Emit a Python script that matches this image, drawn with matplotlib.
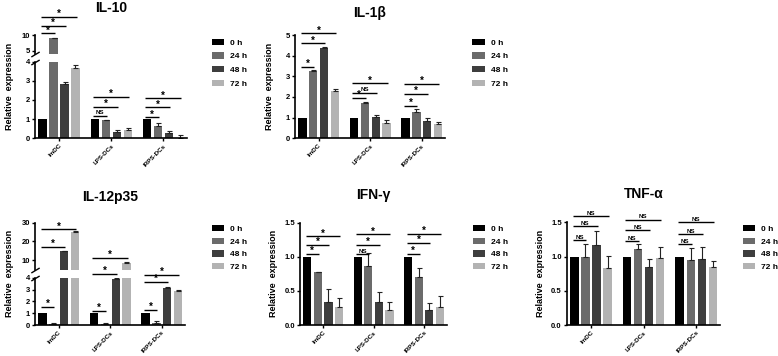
import numpy as np
import matplotlib
matplotlib.use("Agg")
import matplotlib.pyplot as plt

plt.rcParams['font.family'] = ['Liberation Sans', 'DejaVu Sans']
plt.rcParams['font.weight'] = 'bold'

groups = ["ImDC", "LPS-DCs", "IRPS-DCs"]
times = ["0 h", "24 h", "48 h", "72 h"]
colors = ["#000000", "#6b6b6b", "#3e3e3e", "#b3b3b3"]

# rows = ImDC, LPS-DCs, IRPS-DCs ; columns = 0 h, 24 h, 48 h, 72 h
il10_mean = [[1.0, 8.9, 2.85, 3.65], [1.0, 0.93, 0.35, 0.42], [1.0, 0.65, 0.27, 0.03]]
il10_err = [[0, 0.1, 0.1, 0.17], [0, 0.05, 0.1, 0.1], [0, 0.15, 0.12, 0.12]]
il10_sig = [["*", "*", "*"], ["NS", "*", "*"], ["*", "*", "*"]]
il10_sig_y = [[10.5, 12.9, 15.8], [1.18, 1.65, 2.17], [1.09, 1.61, 2.08]]

il1b_mean = [[1.0, 3.26, 4.35, 2.3], [1.0, 1.73, 1.05, 0.76], [1.0, 1.27, 0.82, 0.68]]
il1b_err = [[0, 0.05, 0.05, 0.1], [0, 0.03, 0.1, 0.12], [0, 0.15, 0.15, 0.1]]
il1b_sig = [["*", "*", "*"], ["*", "NS", "*"], ["*", "*", "*"]]
il1b_sig_y = [[3.47, 4.6, 5.08], [1.94, 2.21, 2.66], [1.56, 2.15, 2.63]]

il12_mean = [[1.0, 0.1, 15.1, 25.2], [1.0, 0.05, 3.9, 8.7], [1.0, 0.2, 3.16, 2.88]]
il12_err = [[0, 0.05, 0.1, 0.2], [0, 0.15, 0.07, 0.2], [0, 0.1, 0.08, 0.07]]
il12_sig = [["*", "*", "*"], ["*", "*", "*"], ["*", "*", "*"]]
il12_sig_y = [[1.55, 17.2, 26.5], [1.2, 4.3, 11.1], [1.27, 3.66, 4.25]]

ifng_mean = [[1.0, 0.77, 0.34, 0.27], [1.0, 0.86, 0.34, 0.22], [1.0, 0.70, 0.22, 0.26]]
ifng_err = [[0, 0.01, 0.19, 0.12], [0, 0.19, 0.14, 0.12], [0, 0.14, 0.1, 0.16]]
ifng_sig = [["*", "*", "*"], ["NS", "*", "*"], ["*", "*", "*"]]
ifng_sig_y = [[1.04, 1.18, 1.30], [1.04, 1.17, 1.33], [1.04, 1.2, 1.34]]

tnfa_mean = [[1.0, 0.99, 1.17, 0.83], [1.0, 1.11, 0.85, 0.98], [1.0, 0.95, 0.96, 0.84]]
tnfa_err = [[0, 0.2, 0.21, 0.18], [0, 0.07, 0.11, 0.16], [0, 0.18, 0.18, 0.1]]
tnfa_sig = [["NS", "NS", "NS"], ["NS", "NS", "NS"], ["NS", "NS", "NS"]]
tnfa_sig_y = [[1.24, 1.44, 1.59], [1.22, 1.39, 1.54], [1.18, 1.33, 1.5]]

W, H = 778, 356
step, width = 0.21, 0.16

fig = plt.figure(figsize=(W / 100, H / 100), dpi=100)


def add_ax(x0, x1, ytop, ybot):
    ax = fig.add_axes([x0 / W, 1 - ybot / H, (x1 - x0) / W, (ybot - ytop) / H])
    ax.patch.set_visible(False)
    return ax


def style(ax, bottom=True):
    for s in ["top", "right"]:
        ax.spines[s].set_visible(False)
    ax.spines["left"].set_linewidth(1.2)
    ax.spines["bottom"].set_linewidth(1.2)
    ax.tick_params(axis="y", labelsize=5.5, length=2.5, width=1, pad=1)
    ax.set_xlim(-0.46, 2.45)
    if bottom:
        ax.set_xticks(range(3))
        ax.set_xticklabels(groups, rotation=45, ha="right", rotation_mode="anchor", fontsize=4.5)
        ax.tick_params(axis="x", length=2.5, width=1, pad=1)
    else:
        ax.spines["bottom"].set_visible(False)
        ax.set_xticks([])


def draw_bars(ax, mean, err, floor=0):
    mean = np.array(mean)
    err = np.array(err)
    bars = []
    for k in range(4):
        x = np.arange(3) + (k - 1.5) * step
        b = ax.bar(x, mean[:, k], width, color=colors[k], label=times[k])
        bars.append(b)
        if k > 0:
            keep = mean[:, k] > floor
            ax.errorbar(x[keep], mean[keep, k], yerr=[np.zeros(keep.sum()), err[keep, k]],
                        fmt="none", ecolor="#222222", elinewidth=0.8, capsize=1.8, capthick=0.8)
    return bars


def brackets(ax, sig, sig_y, upper=None, split=None):
    for g in range(3):
        for j in range(3):
            y = sig_y[g][j]
            a = upper if (upper is not None and y > split) else ax
            x0 = g - 1.5 * step - 0.03
            x1 = g + (j - 0.5) * step + 0.02
            a.plot([x0, x1], [y, y], color="k", lw=1, clip_on=False, solid_capstyle="butt")
            lab = sig[g][j]
            a.annotate(lab, ((x0 + x1) / 2, y), xytext=(0, -1.5 if lab == "*" else 0.2),
                       textcoords="offset points", ha="center", va="bottom",
                       fontsize=7 if lab == "*" else 4.5, annotation_clip=False)


def break_marks(lower, upper):
    kw = dict(marker=[(-1, -0.6), (1, 0.6)], markersize=6, linestyle="none",
              color="k", mec="k", mew=1, clip_on=False)
    upper.plot([0], [0], transform=upper.transAxes, **kw)
    lower.plot([0], [1], transform=lower.transAxes, **kw)


def legend(ax, bars, x, ytop, spacing):
    ax.legend(bars, times, loc="upper left", bbox_to_anchor=(x / W, 1 - ytop / H),
              bbox_transform=fig.transFigure, frameon=False, fontsize=6,
              handlelength=1.5, handleheight=0.8, handletextpad=0.7,
              labelspacing=spacing, borderpad=0, borderaxespad=0)


def titles(ax_list, title, ty):
    bb = ax_list[0].get_position()
    fig.text(bb.x0 + bb.width / 2, 1 - ty / H, title, ha="center", va="center",
             fontsize=10, fontweight="bold")
    y0 = min(a.get_position().y0 for a in ax_list)
    y1 = max(a.get_position().y1 for a in ax_list)
    fig.text(bb.x0 - 26 / W, (y0 + y1) / 2, "Relative  expression", rotation=90,
             ha="center", va="center", fontsize=6.5, fontweight="bold")


# IL-10 (broken axis)
lo = add_ax(35, 187, 61.7, 138.3)
up = add_ax(35, 187, 35, 53.5)
style(lo)
style(up, bottom=False)
lo.set_ylim(0, 4)
lo.set_yticks([0, 1, 2, 3, 4])
up.set_ylim(4.1, 10)
up.set_yticks([5, 10])
bars = draw_bars(lo, il10_mean, il10_err)
draw_bars(up, il10_mean, il10_err, floor=4.1)
break_marks(lo, up)
brackets(lo, il10_sig, il10_sig_y, up, 5)
legend(lo, bars, 212, 38.5, 0.68)
titles([up, lo], "IL-10", 8)

# IL-1beta
ax = add_ax(295, 445, 35, 138.3)
style(ax)
bars = draw_bars(ax, il1b_mean, il1b_err)
ax.set_ylim(0, 5)
ax.set_yticks(range(6))
brackets(ax, il1b_sig, il1b_sig_y)
legend(ax, bars, 472.3, 38.5, 0.68)
titles([ax], "IL-1β", 12.5)

# IL-12p35 (broken axis)
lo = add_ax(35, 185, 277.7, 325)
up = add_ax(35, 185, 222.7, 269.5)
style(lo)
style(up, bottom=False)
lo.set_ylim(0, 4)
lo.set_yticks([0, 1, 2, 3, 4])
up.set_ylim(5.1, 30)
up.set_yticks([10, 20, 30])
bars = draw_bars(lo, il12_mean, il12_err)
draw_bars(up, il12_mean, il12_err, floor=5.1)
break_marks(lo, up)
brackets(lo, il12_sig, il12_sig_y, up, 5)
legend(lo, bars, 212, 225, 0.55)
titles([up, lo], "IL-12p35", 196.5)

# IFN-gamma
ax = add_ax(300, 446.7, 222.7, 325)
style(ax)
bars = draw_bars(ax, ifng_mean, ifng_err)
ax.set_ylim(0, 1.5)
ax.set_yticks([0, 0.5, 1.0, 1.5])
ax.set_yticklabels(["0.0", "0.5", "1.0", "1.5"])
brackets(ax, ifng_sig, ifng_sig_y)
legend(ax, bars, 473, 225, 0.55)
titles([ax], "IFN-γ", 195.5)

# TNF-alpha
ax = add_ax(566.7, 720, 222.3, 325)
style(ax)
bars = draw_bars(ax, tnfa_mean, tnfa_err)
ax.set_ylim(0, 1.5)
ax.set_yticks([0, 0.5, 1.0, 1.5])
ax.set_yticklabels(["0.0", "0.5", "1.0", "1.5"])
brackets(ax, tnfa_sig, tnfa_sig_y)
legend(ax, bars, 742.7, 225, 0.55)
titles([ax], "TNF-α", 193.5)

fig.savefig("out.png", dpi=100)
